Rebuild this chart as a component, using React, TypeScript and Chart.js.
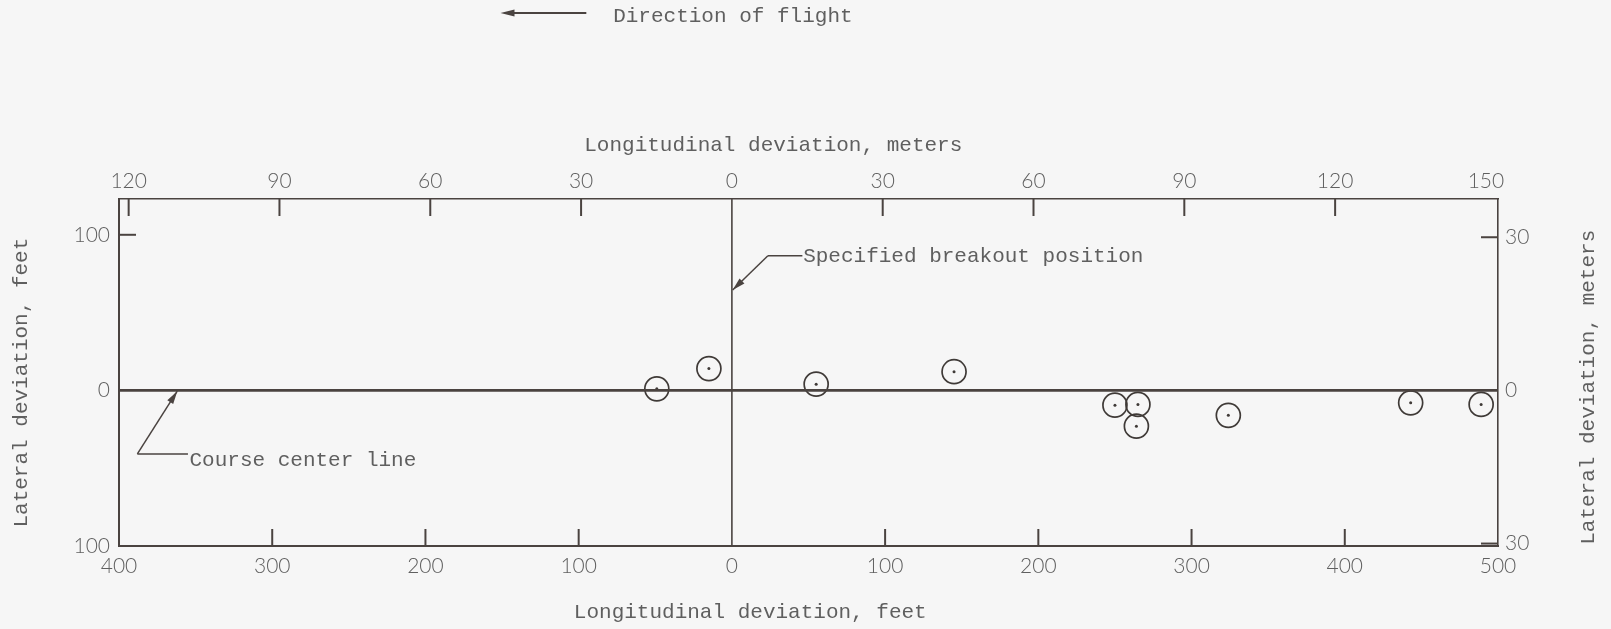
import React, { useEffect, useRef } from "react";
import { Chart, registerables } from "chart.js";

Chart.register(...registerables);

// ---- data (feet) ----
const longitudinalFeet = [-49, -15, 55, 145, 250, 265, 264, 324, 443, 489];
const lateralFeet = [1, 14, 4, 12, -9.5, -9, -23, -16, -8, -9];

// ---- axes ----
const X_MIN_FT = -400;
const X_MAX_FT = 500;
const Y_MIN_FT = -100;
const Y_MAX_FT = 123;
const FT_TO_M = 0.3048;

const bottomTickValues = [-400, -300, -200, -100, 0, 100, 200, 300, 400, 500];
const topTickValues = [-120, -90, -60, -30, 0, 30, 60, 90, 120, 150];
const leftTickValues = [-100, 0, 100];
const rightTickValues = [-30, 0, 30];

// inward tick marks actually drawn on the frame
const bottomMarks = [-300, -200, -100, 100, 200, 300, 400];
const topMarks = [-120, -90, -60, -30, 30, 60, 90, 120];
const leftMarks = [100];
const rightMarks = [30, -30];

// ---- text ----
const topTitle = "Longitudinal deviation, meters";
const bottomTitle = "Longitudinal deviation, feet";
const leftTitle = "Lateral deviation, feet";
const rightTitle = "Lateral deviation, meters";
const breakoutLabel = "Specified breakout position";
const centerLineLabel = "Course center line";
const directionLabel = "Direction of flight";

// ---- style ----
const PAGE_BG = "#f6f6f6";
const LINE_COLOR = "#4a4340";
const TEXT_COLOR = "#5f5f5f";
const MONO = "'Liberation Mono', 'DejaVu Sans Mono', monospace";
const NUM_FONT = { family: "Lato, 'Liberation Sans', sans-serif", size: 21, weight: "300" as const };
const TICK_LEN = 17;

const points = longitudinalFeet.map((x, i) => ({ x, y: lateralFeet[i] }));

const decorPlugin = {
  id: "decor",
  beforeDraw(chart: any) {
    const { ctx, width, height } = chart;
    ctx.save();
    ctx.fillStyle = PAGE_BG;
    ctx.fillRect(0, 0, width, height);
    ctx.restore();
  },
  afterDraw(chart: any) {
    const { ctx, chartArea } = chart;
    const { x, x2, y, y2 } = chart.scales;
    const X = (v: number) => x.getPixelForValue(v);
    const Y = (v: number) => y.getPixelForValue(v);
    ctx.save();
    ctx.strokeStyle = LINE_COLOR;
    ctx.fillStyle = LINE_COLOR;
    ctx.lineWidth = 2;
    ctx.lineCap = "butt";
    const seg = (ax: number, ay: number, bx: number, by: number) => {
      ctx.beginPath();
      ctx.moveTo(ax, ay);
      ctx.lineTo(bx, by);
      ctx.stroke();
    };
    const arrowHead = (tx: number, ty: number, fx: number, fy: number, len = 13, half = 3.5) => {
      const a = Math.atan2(ty - fy, tx - fx);
      const c = Math.cos(a), s = Math.sin(a);
      ctx.beginPath();
      ctx.moveTo(tx, ty);
      ctx.lineTo(tx - len * c + half * s, ty - len * s - half * c);
      ctx.lineTo(tx - len * c - half * s, ty - len * s + half * c);
      ctx.closePath();
      ctx.fill();
    };

    // inward ticks
    bottomMarks.forEach((v) => {
      const p = X(v);
      seg(p, chartArea.bottom, p, chartArea.bottom - TICK_LEN);
    });
    topMarks.forEach((v) => {
      const p = x2.getPixelForValue(v);
      seg(p, chartArea.top, p, chartArea.top + TICK_LEN);
    });
    leftMarks.forEach((v) => {
      const p = Y(v);
      seg(chartArea.left, p, chartArea.left + TICK_LEN, p);
    });
    rightMarks.forEach((v) => {
      const p = y2.getPixelForValue(v);
      seg(chartArea.right, p, chartArea.right - TICK_LEN, p);
    });

    // annotations
    ctx.lineWidth = 1.5;
    ctx.font = `21px ${MONO}`;
    ctx.textBaseline = "middle";
    ctx.textAlign = "left";

    // Specified breakout position
    seg(X(46), Y(86.5), X(23.5), Y(86.5));
    seg(X(23.5), Y(86.5), X(0.5), Y(64.5));
    arrowHead(X(0.5), Y(64.5), X(23.5), Y(86.5));
    ctx.fillStyle = TEXT_COLOR;
    ctx.fillText(breakoutLabel, X(46.5), Y(86));

    // Course center line
    ctx.fillStyle = LINE_COLOR;
    seg(X(-355), Y(-40.8), X(-388), Y(-40.8));
    seg(X(-388), Y(-40.8), X(-362), Y(-0.5));
    arrowHead(X(-362), Y(-0.5), X(-388), Y(-40.8));
    ctx.fillStyle = TEXT_COLOR;
    ctx.fillText(centerLineLabel, X(-354), Y(-45));

    // Direction of flight
    ctx.fillStyle = LINE_COLOR;
    ctx.lineWidth = 2;
    seg(X(-95), Y(242.6), X(-148), Y(242.6));
    arrowHead(X(-151), Y(242.6), X(-95), Y(242.6), 14, 3.5);
    ctx.fillStyle = TEXT_COLOR;
    ctx.fillText(directionLabel, X(-77.5), Y(240.6));

    // axis titles
    ctx.textAlign = "center";
    ctx.fillText(topTitle, X(27), chartArea.top - 54);
    ctx.fillText(bottomTitle, X(12), chartArea.bottom + 66);
    ctx.save();
    ctx.translate(chartArea.left - 98, Y(5));
    ctx.rotate(-Math.PI / 2);
    ctx.fillText(leftTitle, 0, 0);
    ctx.restore();
    ctx.save();
    ctx.translate(chartArea.right + 90, Y(2));
    ctx.rotate(-Math.PI / 2);
    ctx.fillText(rightTitle, 0, 0);
    ctx.restore();

    ctx.restore();
  },
};

const absLabel = (v: any) => String(Math.abs(Number(v)));

export default function App() {
  const ref = useRef<HTMLCanvasElement>(null);
  useEffect(() => {
    if (!ref.current) return;
    const chart = new Chart(ref.current, {
      type: "scatter",
      data: {
        datasets: [
          {
            type: "line",
            data: [
              { x: X_MIN_FT, y: 0 },
              { x: X_MAX_FT, y: 0 },
            ],
            borderColor: LINE_COLOR,
            borderWidth: 2.6,
            pointRadius: 0,
            showLine: true,
          },
          {
            type: "line",
            data: [
              { x: 0, y: Y_MIN_FT },
              { x: 0, y: Y_MAX_FT },
            ],
            borderColor: LINE_COLOR,
            borderWidth: 1.6,
            pointRadius: 0,
            showLine: true,
          },
          {
            data: points,
            pointStyle: "circle",
            pointRadius: 12,
            pointBorderWidth: 1.7,
            pointBorderColor: "#3f3a37",
            pointBackgroundColor: "rgba(0,0,0,0)",
          },
          {
            data: points,
            pointStyle: "circle",
            pointRadius: 1.5,
            pointBorderWidth: 0,
            pointBackgroundColor: "#3f3a37",
          },
        ],
      } as any,
      options: {
        responsive: false,
        animation: false,
        layout: { padding: 0 },
        plugins: { legend: { display: false }, tooltip: { enabled: false } },
        scales: {
          x: {
            type: "linear",
            position: "bottom",
            min: X_MIN_FT,
            max: X_MAX_FT,
            afterBuildTicks: (s: any) => {
              s.ticks = bottomTickValues.map((value) => ({ value }));
            },
            afterFit: (s: any) => {
              s.height = 83;
            },
            ticks: { callback: absLabel, font: NUM_FONT, color: TEXT_COLOR, padding: 8, maxRotation: 0, autoSkip: false },
            grid: { display: true, drawOnChartArea: false, drawTicks: false },
            border: { display: true, color: LINE_COLOR, width: 2 },
          },
          x2: {
            type: "linear",
            position: "top",
            min: X_MIN_FT * FT_TO_M,
            max: X_MAX_FT * FT_TO_M,
            afterBuildTicks: (s: any) => {
              s.ticks = topTickValues.map((value) => ({ value }));
            },
            afterFit: (s: any) => {
              s.height = 199;
            },
            ticks: { callback: absLabel, font: NUM_FONT, color: TEXT_COLOR, padding: 5, maxRotation: 0, autoSkip: false },
            grid: { display: true, drawOnChartArea: false, drawTicks: false },
            border: { display: true, color: LINE_COLOR, width: 1.6 },
          },
          y: {
            type: "linear",
            position: "left",
            min: Y_MIN_FT,
            max: Y_MAX_FT,
            afterBuildTicks: (s: any) => {
              s.ticks = leftTickValues.map((value) => ({ value }));
            },
            afterFit: (s: any) => {
              s.width = 119;
            },
            ticks: { callback: absLabel, font: NUM_FONT, color: TEXT_COLOR, padding: 9, autoSkip: false },
            grid: { display: true, drawOnChartArea: false, drawTicks: false },
            border: { display: true, color: LINE_COLOR, width: 2 },
          },
          y2: {
            type: "linear",
            position: "right",
            min: Y_MIN_FT * FT_TO_M,
            max: Y_MAX_FT * FT_TO_M,
            afterBuildTicks: (s: any) => {
              s.ticks = rightTickValues.map((value) => ({ value }));
            },
            afterFit: (s: any) => {
              s.width = 113;
            },
            ticks: { callback: absLabel, font: NUM_FONT, color: TEXT_COLOR, padding: 7, autoSkip: false },
            grid: { display: true, drawOnChartArea: false, drawTicks: false },
            border: { display: true, color: LINE_COLOR, width: 1.6 },
          },
        },
      } as any,
      plugins: [decorPlugin],
    });
    return () => chart.destroy();
  }, []);
  return (
    <canvas
      ref={ref}
      width={1611}
      height={629}
      style={{ position: "fixed", left: 0, top: 0, display: "block" }}
    />
  );
}
